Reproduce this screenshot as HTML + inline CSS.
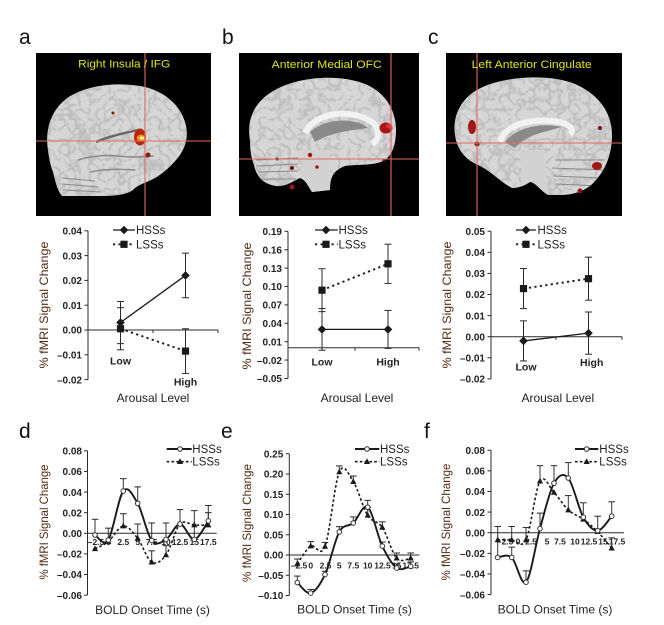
<!DOCTYPE html>
<html><head><meta charset="utf-8">
<style>
html,body{margin:0;padding:0;background:#fff;}
svg{display:block;font-family:"Liberation Sans",Arial,sans-serif;}
.tl{font-size:10px;font-weight:bold;fill:#222;text-anchor:end;}
.xl{font-size:8.5px;font-weight:bold;fill:#222;text-anchor:middle;}
.cat{font-size:10.5px;font-weight:bold;fill:#222;text-anchor:middle;}
.ax{font-size:12px;fill:#222;text-anchor:middle;}
.yl{font-size:12px;fill:#552c14;text-anchor:middle;}
.lg{font-size:11.5px;fill:#222;}
.pl{font-size:21px;fill:#111;}
.tt{font-size:11px;fill:#e2e21c;text-anchor:middle;}
.sul{stroke:#8a8a8a;stroke-width:1.4;fill:none;stroke-linecap:round;}
.str{stroke:#8a8a8a;stroke-width:1;fill:none;}
.ch{stroke:#e46a5a;stroke-width:1.1;}
</style></head>
<body>
<svg id="s" width="664" height="625" viewBox="0 0 664 625" xmlns="http://www.w3.org/2000/svg">
<defs>
<filter id="nz" filterUnits="userSpaceOnUse" x="0" y="40" width="664" height="190">
  <feTurbulence type="turbulence" baseFrequency="0.10" numOctaves="2" seed="7"/>
  <feColorMatrix type="matrix" values="0 0 0 0 0.42  0 0 0 0 0.42  0 0 0 0 0.42  -3.6 0 0 0 0.95"/>
</filter>
<clipPath id="ca"><path d="M48,150 C44,126 54,104 74,94 C94,84 120,82 145,87 C165,92 180,105 185,122 C189,135 186,146 180,155 C172,166 162,174 155,178 C148,182 140,184 135,188 C130,194 118,196 100,196 L62,196 C57,190 55,180 53,172 C50,164 49,158 48,150 Z"/></clipPath>
<clipPath id="cb"><path d="M250,140 C246,118 256,100 275,90 C300,76 340,74 365,84 C385,92 396,110 396,130 C396,145 392,155 385,160 C375,166 360,164 345,166 C335,170 330,175 330,190 L312,192 C308,186 306,180 300,178 C292,182 285,187 276,186 C262,184 256,175 254,165 C251,157 250,150 250,140 Z"/></clipPath>
<clipPath id="cc"><path d="M455,135 C452,115 462,95 485,86 C510,76 550,74 575,84 C598,94 612,112 612,135 C612,155 605,170 596,180 C588,190 575,195 560,195 L548,195 C540,190 535,182 530,182 C525,185 520,188 512,188 C500,182 490,170 478,165 C466,160 457,150 455,135 Z"/></clipPath>
</defs>
<rect width="664" height="625" fill="#fff"/>

<!-- panel letters -->
<text class="pl" x="19" y="44">a</text>
<text class="pl" x="222" y="44">b</text>
<text class="pl" x="428" y="44">c</text>
<text class="pl" x="19" y="438">d</text>
<text class="pl" x="221" y="438">e</text>
<text class="pl" x="424" y="438">f</text>

<!-- ============ Brain a ============ -->
<rect x="36" y="53" width="175" height="163" fill="#000"/>
<g clip-path="url(#ca)">
<rect x="36" y="53" width="175" height="163" fill="#d6d6d6"/>
<rect x="36" y="53" width="175" height="163" fill="#000" filter="url(#nz)" opacity="0.75"/>
</g>
<path class="sul" d="M78,160 q20,-6 40,-4 q18,2 35,0 M90,172 q20,-4 45,-2"/>
<path d="M96,142 C110,136 125,133 138,130" stroke="#6a6a6a" stroke-width="2.4" fill="none"/>
<path class="str" d="M62,178 l33,3 M62,184 l36,3 M63,190 l38,2"/>
<ellipse cx="140" cy="137" rx="6" ry="8.5" fill="#b82a10"/>
<ellipse cx="141" cy="138" rx="4.2" ry="3.2" fill="#ff9a20"/>
<ellipse cx="142" cy="138" rx="2" ry="1.5" fill="#ffff90"/>
<circle cx="148" cy="155" r="2.5" fill="#8b1a10"/>
<circle cx="113" cy="113" r="1.5" fill="#8b1a10"/>
<line class="ch" x1="145" y1="53" x2="145" y2="216"/>
<line class="ch" x1="36" y1="141" x2="211" y2="141" stroke-width="1.5"/>
<text class="tt" x="124.2" y="67.5" textLength="92" lengthAdjust="spacingAndGlyphs">Right Insula / IFG</text>

<!-- ============ Brain b ============ -->
<rect x="239" y="53" width="180" height="163" fill="#000"/>
<g clip-path="url(#cb)">
<rect x="239" y="53" width="180" height="163" fill="#d6d6d6"/>
<rect x="239" y="53" width="180" height="163" fill="#000" filter="url(#nz)" opacity="0.75"/>
<path d="M302,150 L330,150 L330,192 L300,192 Z" fill="#d2d2d2"/>
<path class="str" d="M256,160 l42,-2 M256,166 l42,-2 M258,172 l40,-1 M262,179 l34,0"/>
</g>
<path d="M310,132 C325,118 355,117 368,128 C355,130 330,132 315,142 Z" fill="#8a8a8a"/>
<path d="M305,133 C315,112 350,108 372,122 C380,128 380,140 372,144" stroke="#f2f2f2" stroke-width="6" fill="none"/>
<ellipse cx="386" cy="128" rx="6.5" ry="5.5" fill="#a81818"/>
<ellipse cx="389" cy="126" rx="3" ry="2.5" fill="#e03030"/>
<circle cx="310" cy="155" r="2.2" fill="#9b1b1b"/>
<circle cx="317" cy="167" r="1.8" fill="#9b1b1b"/>
<circle cx="292" cy="168" r="2" fill="#7b1010"/>
<circle cx="292" cy="187" r="2.5" fill="#9b1b1b"/>
<circle cx="277" cy="159" r="1.5" fill="#7b1010"/>
<circle cx="384" cy="160" r="1.5" fill="#7b1010"/>
<line class="ch" x1="391" y1="53" x2="391" y2="216"/>
<line class="ch" x1="239" y1="159" x2="419" y2="159"/>
<text class="tt" x="326.7" y="68" textLength="110" lengthAdjust="spacingAndGlyphs">Anterior Medial OFC</text>

<!-- ============ Brain c ============ -->
<rect x="446" y="53" width="176" height="163" fill="#000"/>
<g clip-path="url(#cc)">
<rect x="446" y="53" width="176" height="163" fill="#d6d6d6"/>
<rect x="446" y="53" width="176" height="163" fill="#000" filter="url(#nz)" opacity="0.75"/>
<path d="M520,150 L545,150 L548,195 L522,190 Z" fill="#d2d2d2"/>
<path class="str" d="M555,160 l50,0 M552,168 l52,2 M553,176 l50,2 M556,184 l44,2"/>
</g>
<path d="M505,142 C515,128 540,122 562,127 C545,132 525,135 515,148 Z" fill="#8a8a8a"/>
<path d="M500,142 C505,125 530,117 560,122 C570,125 575,130 570,134" stroke="#f2f2f2" stroke-width="6" fill="none"/>
<ellipse cx="472" cy="127" rx="4" ry="7" fill="#a01818"/>
<circle cx="477" cy="144" r="2.5" fill="#7b1010"/>
<ellipse cx="597" cy="166" rx="5" ry="4" fill="#a01818"/>
<circle cx="600" cy="128" r="2" fill="#7b1010"/>
<circle cx="580" cy="191" r="2.5" fill="#8b1010"/>
<line class="ch" x1="477" y1="53" x2="477" y2="216"/>
<line class="ch" x1="446" y1="143" x2="622" y2="143"/>
<text class="tt" x="531.7" y="68" textLength="120" lengthAdjust="spacingAndGlyphs">Left Anterior Cingulate</text>

<!-- ============ Text: chart a ============ -->
<text class="tl" x="82" y="234.5">0.04</text>
<text class="tl" x="82" y="259.3">0.03</text>
<text class="tl" x="82" y="284.1">0.02</text>
<text class="tl" x="82" y="308.9">0.01</text>
<text class="tl" x="82" y="333.7">0.00</text>
<text class="tl" x="82" y="358.5">–0.01</text>
<text class="tl" x="82" y="383.3">–0.02</text>
<text class="cat" x="120.5" y="364.5">Low</text>
<text class="cat" x="185.5" y="385.5">High</text>
<text class="ax" x="153" y="402">Arousal Level</text>
<text class="yl" transform="translate(48,305) rotate(-90)" textLength="127" lengthAdjust="spacingAndGlyphs">% fMRI Signal Change</text>
<text class="lg" x="136" y="234">HSSs</text>
<text class="lg" x="136" y="248.3">LSSs</text>

<!-- ============ Text: chart b ============ -->
<text class="tl" x="282" y="235">0.19</text>
<text class="tl" x="282" y="253.4">0.16</text>
<text class="tl" x="282" y="271.8">0.13</text>
<text class="tl" x="282" y="290.2">0.10</text>
<text class="tl" x="282" y="308.6">0.07</text>
<text class="tl" x="282" y="327">0.04</text>
<text class="tl" x="282" y="345.4">0.01</text>
<text class="tl" x="282" y="363.8">–0.02</text>
<text class="tl" x="282" y="382.2">–0.05</text>
<text class="cat" x="322" y="365.5">Low</text>
<text class="cat" x="388" y="365.5">High</text>
<text class="ax" x="357" y="402">Arousal Level</text>
<text class="yl" transform="translate(251,306) rotate(-90)" textLength="127" lengthAdjust="spacingAndGlyphs">% fMRI Signal Change</text>
<text class="lg" x="338.5" y="234">HSSs</text>
<text class="lg" x="338.5" y="248.3">LSSs</text>

<!-- ============ Text: chart c ============ -->
<text class="tl" x="485" y="234.9">0.05</text>
<text class="tl" x="485" y="256">0.04</text>
<text class="tl" x="485" y="277.1">0.03</text>
<text class="tl" x="485" y="298.2">0.02</text>
<text class="tl" x="485" y="319.3">0.01</text>
<text class="tl" x="485" y="340.4">0.00</text>
<text class="tl" x="485" y="361.5">–0.01</text>
<text class="tl" x="485" y="382.6">–0.02</text>
<text class="cat" x="526" y="370.5">Low</text>
<text class="cat" x="591.7" y="366">High</text>
<text class="ax" x="557.8" y="402">Arousal Level</text>
<text class="yl" transform="translate(451,305) rotate(-90)" textLength="127" lengthAdjust="spacingAndGlyphs">% fMRI Signal Change</text>
<text class="lg" x="537.5" y="234">HSSs</text>
<text class="lg" x="537.5" y="248.3">LSSs</text>

<!-- ============ Text: chart d ============ -->
<text class="tl" x="82" y="454.5">0.08</text>
<text class="tl" x="82" y="475.1">0.06</text>
<text class="tl" x="82" y="495.8">0.04</text>
<text class="tl" x="82" y="516.4">0.02</text>
<text class="tl" x="82" y="537">0.00</text>
<text class="tl" x="82" y="557.6">–0.02</text>
<text class="tl" x="82" y="578.2">–0.04</text>
<text class="tl" x="82" y="598.9">–0.06</text>
<text class="xl" x="96" y="545">–2.5</text>
<text class="xl" x="108.5" y="545">0</text>
<text class="xl" x="123.3" y="545">2.5</text>
<text class="xl" x="137.7" y="545">5</text>
<text class="xl" x="151.7" y="545">7.5</text>
<text class="xl" x="166" y="545">10</text>
<text class="xl" x="180" y="545">12.5</text>
<text class="xl" x="194.3" y="545">15</text>
<text class="xl" x="208.3" y="545">17.5</text>
<text class="ax" x="152.5" y="614">BOLD Onset Time (s)</text>
<text class="yl" transform="translate(48,522) rotate(-90)" textLength="115" lengthAdjust="spacingAndGlyphs">% fMRI Signal Change</text>
<text class="lg" x="192.3" y="453" font-size="11">HSSs</text>
<text class="lg" x="192.3" y="465.7" font-size="11">LSSs</text>

<!-- ============ Text: chart e ============ -->
<text class="tl" x="283.3" y="457.4">0.25</text>
<text class="tl" x="283.3" y="477.7">0.20</text>
<text class="tl" x="283.3" y="497.9">0.15</text>
<text class="tl" x="283.3" y="518.2">0.10</text>
<text class="tl" x="283.3" y="538.4">0.05</text>
<text class="tl" x="283.3" y="558.7">0.00</text>
<text class="tl" x="283.3" y="578.9">–0.05</text>
<text class="tl" x="283.3" y="599.2">–0.10</text>
<text class="xl" x="299" y="568.5">–2.5</text>
<text class="xl" x="310.7" y="568.5">0</text>
<text class="xl" x="325.5" y="568.5">2.5</text>
<text class="xl" x="339.3" y="568.5">5</text>
<text class="xl" x="353.3" y="568.5">7.5</text>
<text class="xl" x="367.7" y="568.5">10</text>
<text class="xl" x="382.5" y="568.5">12.5</text>
<text class="xl" x="396.7" y="568.5">15</text>
<text class="xl" x="410.7" y="568.5">17.5</text>
<text class="ax" x="354.5" y="613.5">BOLD Onset Time (s)</text>
<text class="yl" transform="translate(251,523) rotate(-90)" textLength="118" lengthAdjust="spacingAndGlyphs">% fMRI Signal Change</text>
<text class="lg" x="380" y="453" font-size="11">HSSs</text>
<text class="lg" x="380" y="465.7" font-size="11">LSSs</text>

<!-- ============ Text: chart f ============ -->
<text class="tl" x="485" y="453.9">0.08</text>
<text class="tl" x="485" y="474.5">0.06</text>
<text class="tl" x="485" y="495.2">0.04</text>
<text class="tl" x="485" y="515.8">0.02</text>
<text class="tl" x="485" y="536.4">0.00</text>
<text class="tl" x="485" y="557">–0.02</text>
<text class="tl" x="485" y="577.6">–0.04</text>
<text class="tl" x="485" y="598.3">–0.06</text>
<text class="xl" x="505" y="544.5">–2.5</text>
<text class="xl" x="518" y="544.5">0</text>
<text class="xl" x="531" y="544.5">2.5</text>
<text class="xl" x="547" y="544.5">5</text>
<text class="xl" x="560" y="544.5">7.5</text>
<text class="xl" x="575" y="544.5">10</text>
<text class="xl" x="589" y="544.5">12.5</text>
<text class="xl" x="603" y="544.5">15</text>
<text class="xl" x="617" y="544.5">17.5</text>
<text class="ax" x="555" y="613.5">BOLD Onset Time (s)</text>
<text class="yl" transform="translate(450,522) rotate(-90)" textLength="117" lengthAdjust="spacingAndGlyphs">% fMRI Signal Change</text>
<text class="lg" x="599.3" y="453" font-size="11">HSSs</text>
<text class="lg" x="599.3" y="465.7" font-size="11">LSSs</text>

<g id="g"></g>
</svg>
<script>
(function(){
const NS="http://www.w3.org/2000/svg", g=document.getElementById('g');
function E(t,a){const e=document.createElementNS(NS,t);for(const k in a)e.setAttribute(k,a[k]);g.appendChild(e);return e;}
function L(x1,y1,x2,y2,s,w,da){const a={x1:x1,y1:y1,x2:x2,y2:y2,stroke:s||'#2a2a2a','stroke-width':w||1};if(da)a['stroke-dasharray']=da;return E('line',a);}
function axes(c){
  L(c.ax,c.yf(c.ymax),c.ax,c.yf(c.ymin));
  for(let i=0;;i++){const v=c.ymin+i*c.step;if(v>c.ymax+1e-9)break;const y=c.yf(v);L(c.ax-3.5,y,c.ax,y);}
  const y0=c.yf(0);L(c.ax,y0,c.x1,y0);
  (c.xt||[]).forEach(x=>L(x,y0,x,y0+3));
}
function cr(p){let d='M'+p[0][0]+','+p[0][1];for(let i=0;i<p.length-1;i++){const p0=p[i-1]||p[i],p1=p[i],p2=p[i+1],p3=p[i+2]||p2;
 const c1=[p1[0]+(p2[0]-p0[0])/6,p1[1]+(p2[1]-p0[1])/6],c2=[p2[0]-(p3[0]-p1[0])/6,p2[1]-(p3[1]-p1[1])/6];
 d+=' C'+c1[0].toFixed(2)+','+c1[1].toFixed(2)+' '+c2[0].toFixed(2)+','+c2[1].toFixed(2)+' '+p2[0].toFixed(2)+','+p2[1].toFixed(2);}return d;}
function diamond(x,y){E('polygon',{points:[x,y-4.3,x+4.3,y,x,y+4.3,x-4.3,y].join(' '),fill:'#1a1a1a'});}
function square(x,y){E('rect',{x:x-3.6,y:y-3.6,width:7.2,height:7.2,fill:'#1a1a1a'});}
function circ(x,y){E('circle',{cx:x,cy:y,r:2.3,fill:'#fff',stroke:'#333','stroke-width':1});}
function tri(x,y){E('polygon',{points:[x,y-3.4,x+3.1,y+2.3,x-3.1,y+2.3].join(' '),fill:'#1a1a1a'});}
function cap(x,y,w){L(x-w,y,x+w,y,'#2a2a2a',1);}

function topChart(c,H,S,leg){
  axes(c);
  [H,S].forEach(ser=>ser.forEach(p=>{const x=p[0],yt=c.yf(p[1]+p[2]),yb=c.yf(p[1]-p[2]);L(x,yt,x,yb);cap(x,yt,3.5);cap(x,yb,3.5);}));
  L(H[0][0],c.yf(H[0][1]),H[1][0],c.yf(H[1][1]),'#1a1a1a',1.3);
  L(S[0][0],c.yf(S[0][1]),S[1][0],c.yf(S[1][1]),'#1a1a1a',1.9,'2.2,3.3');
  H.forEach(p=>diamond(p[0],c.yf(p[1])));
  S.forEach(p=>square(p[0],c.yf(p[1])));
  L(leg[0],230,leg[1],230,'#1a1a1a',1.3);diamond(leg[2],230);
  L(leg[0],244.3,leg[1],244.3,'#1a1a1a',1.9,'2.2,3.3');square(leg[2],244.3);
}
function botChart(c,xs,h,he,s,se,leg){
  axes(c);
  for(let i=0;i<xs.length;i++){
    if(he[i]!=null){const y1=c.yf(h[i]),y2=c.yf(he[i]);L(xs[i],y1,xs[i],y2,'#333',1);cap(xs[i],y2,3.3);}
    if(se[i]!=null){const y1=c.yf(s[i]),y2=c.yf(se[i]);L(xs[i],y1,xs[i],y2,'#333',1);cap(xs[i],y2,3.3);}
  }
  E('path',{d:cr(xs.map((x,i)=>[x,c.yf(s[i])])),fill:'none',stroke:'#1a1a1a','stroke-width':1.6,'stroke-dasharray':'2.6,2.2'});
  E('path',{d:cr(xs.map((x,i)=>[x,c.yf(h[i])])),fill:'none',stroke:'#1a1a1a','stroke-width':1.9});
  xs.forEach((x,i)=>tri(x,c.yf(s[i])));
  xs.forEach((x,i)=>circ(x,c.yf(h[i])));
  L(leg[0],449,leg[1],449,'#1a1a1a',1.9);circ(leg[2],449);
  L(leg[0],461.7,leg[1],461.7,'#1a1a1a',1.6,'2.6,2.2');tri(leg[2],461.7);
}

topChart({ax:88,x1:218,yf:v=>330-v*2480,ymin:-0.02,ymax:0.04,step:0.01,xt:[153,218]},
  [[120.5,0.003,0.0085],[185.5,0.022,0.009]],[[120.5,0.0005,0.0085],[185.5,-0.0085,0.009]],[113,135,124]);
topChart({ax:288,x1:419,yf:v=>347.8-v*613,ymin:-0.05,ymax:0.19,step:0.03,xt:[355,419]},
  [[322,0.03,0.034],[388,0.03,0.031]],[[322,0.094,0.035],[388,0.137,0.032]],[315,337.7,326]);
topChart({ax:491,x1:622,yf:v=>336.7-v*2110,ymin:-0.02,ymax:0.05,step:0.01,xt:[556,622]},
  [[523.5,-0.002,0.0095],[588.5,0.0017,0.010]],[[523.5,0.0228,0.0095],[588.5,0.0275,0.0102]],[516,536,526]);

botChart({ax:87.5,x1:216.7,yf:v=>533.3-v*1031,ymin:-0.06,ymax:0.08,step:0.02},
  [95,108.3,123.3,137.7,151.7,166,180,194.3,208.3],
  [-0.0017,-0.0065,0.041,0.029,-0.007,-0.006,0.009,-0.006,0.012],
  [0.0136,0.005,0.053,0.045,0.010,0.010,0.023,0.022,0.027],
  [-0.015,-0.008,0.007,-0.005,-0.028,-0.021,0.009,0.008,0.008],
  [null,null,0.019,0.009,-0.017,-0.012,null,null,0.020],
  [166.7,191.7,180]);
botChart({ax:289.3,x1:419.3,yf:v=>555-v*405,ymin:-0.10,ymax:0.25,step:0.05},
  [297.3,310.7,325,339.3,353.3,367.7,382.3,396.7,410.7],
  [-0.068,-0.094,-0.048,0.057,0.079,0.118,0.022,-0.032,-0.028],
  [-0.052,-0.085,-0.040,0.070,0.094,0.135,0.032,-0.022,-0.017],
  [-0.022,0.022,0.021,0.205,0.181,0.098,0.068,-0.008,-0.008],
  [-0.010,0.033,0.031,0.220,0.195,0.118,0.082,0.005,0.005],
  [355,379.3,367]);
botChart({ax:491,x1:624,yf:v=>532.7-v*1031,ymin:-0.06,ymax:0.08,step:0.02},
  [497.7,511.7,526,540,554,568.3,583.3,597.7,611.7],
  [-0.024,-0.024,-0.048,0.004,0.048,0.053,0.015,0.002,0.016],
  [0.006,-0.014,-0.037,0.019,0.065,0.068,0.029,0.016,0.030],
  [-0.007,-0.007,-0.007,0.050,0.039,0.022,0.013,0.001,-0.015],
  [null,0.006,0.005,0.065,null,0.036,null,null,-0.005],
  [575,598.3,586.7]);
})();
</script>
</body></html>
